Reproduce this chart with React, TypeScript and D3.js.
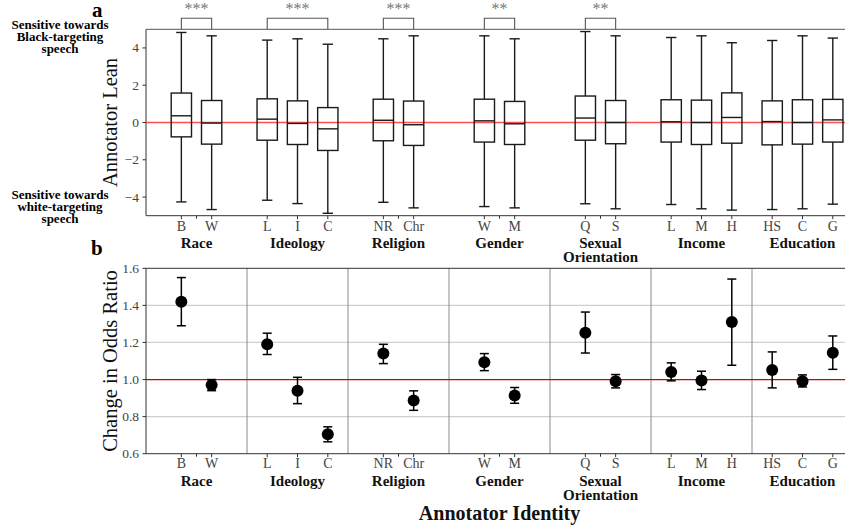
import * as d3 from "d3";

// groups and their items
const groupNames = [["Race"], ["Ideology"], ["Religion"], ["Gender"], ["Sexual", "Orientation"], ["Income"], ["Education"]];
const groupItems = [["B", "W"], ["L", "I", "C"], ["NR", "Chr"], ["W", "M"], ["Q", "S"], ["L", "M", "H"], ["HS", "C", "G"]];

// panel a: annotator lean boxes (flat, same order as groupItems)
const leanWhiskerHi = [4.83, 4.65, 4.42, 4.49, 4.2, 4.49, 4.65, 4.65, 4.49, 4.88, 4.65, 4.56, 4.65, 4.28, 4.4, 4.65, 4.53];
const leanQ3 = [1.58, 1.18, 1.27, 1.16, 0.8, 1.25, 1.15, 1.25, 1.13, 1.42, 1.18, 1.22, 1.2, 1.59, 1.16, 1.22, 1.24];
const leanMedian = [0.36, -0.03, 0.18, -0.05, -0.34, 0.12, -0.12, 0.09, -0.07, 0.24, 0, 0.04, 0, 0.27, 0.05, 0, 0.14];
const leanQ1 = [-0.77, -1.16, -0.95, -1.18, -1.5, -0.98, -1.23, -1.05, -1.18, -0.95, -1.14, -1.05, -1.18, -1.11, -1.2, -1.16, -1.05];
const leanWhiskerLo = [-4.26, -4.67, -4.17, -4.35, -4.87, -4.28, -4.58, -4.51, -4.58, -4.36, -4.63, -4.4, -4.63, -4.7, -4.67, -4.63, -4.38];

// significance per group ('' = none)
const signif = ["***", "***", "***", "**", "**", "", ""];

// panel b: change in odds ratio
const oddsRatio = [1.42, 0.97, 1.19, 0.94, 0.705, 1.14, 0.887, 1.093, 0.914, 1.253, 0.991, 1.041, 0.995, 1.31, 1.052, 0.991, 1.145];
const oddsUpper = [1.55, 1.0, 1.25, 1.012, 0.745, 1.19, 0.939, 1.14, 0.957, 1.364, 1.027, 1.09, 1.045, 1.542, 1.149, 1.025, 1.235];
const oddsLower = [1.29, 0.94, 1.135, 0.87, 0.664, 1.086, 0.834, 1.048, 0.872, 1.143, 0.955, 0.993, 0.946, 1.077, 0.955, 0.96, 1.055];

const leanTicks = [-4, -2, 0, 2, 4];
const oddsTicks = [0.6, 0.8, 1.0, 1.2, 1.4, 1.6];
const oddsGrid = [0.8, 1.2, 1.4];

const W = 845, H = 527;
const font = "'Liberation Serif', 'Times New Roman', serif";
const groupW = 10 / 3;

export default function App() {
  const x = d3.scaleLinear().domain([0, groupW * groupItems.length]).range([146, 853]);
  const yA = d3.scaleLinear().domain([-5, 5]).range([215.7, 29.3]);
  const yB = d3.scaleLinear().domain([0.6, 1.6]).range([453.7, 268.3]);

  // flatten items with positions
  const items: { g: number; label: string; pos: number; i: number }[] = [];
  groupItems.forEach((arr, g) => {
    arr.forEach((label, j) => {
      items.push({ g, label, pos: g * groupW + groupW / 2 + (j - (arr.length - 1) / 2), i: items.length });
    });
  });
  const groupCenter = (g: number) => x(g * groupW + groupW / 2);
  const boxHalf = x(0.335) - x(0);
  const capHalf = x(0.17) - x(0);
  const errCap = 4.5;
  const fmt = d3.format(".1f");
  const x0 = x.range()[0], x1 = x.range()[1];

  const xAxis = (yBase: number, labelY: number, groupY: number) => (
    <g>
      <line x1={x0} x2={x1} y1={yBase} y2={yBase} stroke="#333" strokeWidth={1} />
      {items.map(d => (
        <g key={"t" + d.i}>
          <line x1={x(d.pos)} x2={x(d.pos)} y1={yBase} y2={yBase + 3.5} stroke="#333" />
          <text x={x(d.pos)} y={labelY} textAnchor="middle" fontSize={14} fill="#444" fontFamily={font}>{d.label}</text>
        </g>
      ))}
      {groupNames.map((lines, g) => (
        <g key={"gl" + g}>
          <line x1={groupCenter(g)} x2={groupCenter(g)} y1={yBase} y2={yBase + 3} stroke="#333" />
          {lines.map((ln, k) => (
            <text key={k} x={groupCenter(g)} y={groupY + k * 14.3} textAnchor="middle" fontSize={15} fontWeight="bold" fill="#111" fontFamily={font}>{ln}</text>
          ))}
        </g>
      ))}
    </g>
  );

  return (
    <div style={{ position: "absolute", left: 0, top: 0 }}>
      <svg width={W} height={H} style={{ display: "block", background: "#fff" }}>
        {/* panel labels */}
        <text x={92} y={16.5} fontSize={21} fontWeight="bold" fontFamily={font}>a</text>
        <text x={91} y={255} fontSize={21} fontWeight="bold" fontFamily={font}>b</text>

        {/* side notes */}
        {["Sensitive towards", "Black-targeting", "speech"].map((t, k) => (
          <text key={"n1" + k} x={60} y={28.5 + k * 12} textAnchor="middle" fontSize={13} fontWeight="bold" fontFamily={font}>{t}</text>
        ))}
        {["Sensitive towards", "white-targeting", "speech"].map((t, k) => (
          <text key={"n2" + k} x={60} y={199 + k * 12} textAnchor="middle" fontSize={13} fontWeight="bold" fontFamily={font}>{t}</text>
        ))}

        {/* ---------- panel a ---------- */}
        <line x1={x0} x2={x1} y1={yA(5)} y2={yA(5)} stroke="#555" strokeWidth={1} />
        <line x1={x0} x2={x0} y1={yA(5)} y2={yA(-5)} stroke="#333" strokeWidth={1} />
        {leanTicks.map(t => (
          <g key={"ya" + t}>
            <line x1={x0 - 3.5} x2={x0} y1={yA(t)} y2={yA(t)} stroke="#333" />
            <text x={139} y={yA(t) + 4.5} textAnchor="end" fontSize={13.5} fill="#444" fontFamily={font}>{t < 0 ? "\u2212" + Math.abs(t) : t}</text>
          </g>
        ))}
        <text transform={`translate(117,${yA(0)}) rotate(-90)`} textAnchor="middle" fontSize={20.5} fill="#111" fontFamily={font}>Annotator Lean</text>

        <line x1={x0} x2={x1} y1={yA(0)} y2={yA(0)} stroke="#ff3030" strokeOpacity={0.85} strokeWidth={1.5} />

        {items.map(d => {
          const cx = x(d.pos);
          const s = "#1a1a1a";
          return (
            <g key={"b" + d.i} stroke={s} strokeWidth={1.4} fill="none">
              <line x1={cx} x2={cx} y1={yA(leanWhiskerHi[d.i])} y2={yA(leanQ3[d.i])} />
              <line x1={cx} x2={cx} y1={yA(leanQ1[d.i])} y2={yA(leanWhiskerLo[d.i])} />
              <line x1={cx - capHalf} x2={cx + capHalf} y1={yA(leanWhiskerHi[d.i])} y2={yA(leanWhiskerHi[d.i])} />
              <line x1={cx - capHalf} x2={cx + capHalf} y1={yA(leanWhiskerLo[d.i])} y2={yA(leanWhiskerLo[d.i])} />
              <rect x={cx - boxHalf} y={yA(leanQ3[d.i])} width={boxHalf * 2} height={yA(leanQ1[d.i]) - yA(leanQ3[d.i])} />
              <line x1={cx - boxHalf} x2={cx + boxHalf} y1={yA(leanMedian[d.i])} y2={yA(leanMedian[d.i])} />
            </g>
          );
        })}

        {/* significance brackets */}
        {signif.map((s, g) => {
          if (!s) return null;
          const its = items.filter(d => d.g === g);
          const xa = x(its[0].pos), xb = x(its[its.length - 1].pos);
          const top = 18.3, bot = yA(5);
          return (
            <g key={"s" + g}>
              <path d={`M${xa},${bot}V${top}H${xb}V${bot}`} fill="none" stroke="#555" strokeWidth={1.1} />
              <text x={(xa + xb) / 2} y={14} textAnchor="middle" fontSize={16} fill="#777" fontFamily={font}>{s}</text>
            </g>
          );
        })}

        {xAxis(yA(-5), 231, 247.5)}

        {/* ---------- panel b ---------- */}
        {oddsGrid.map(t => (
          <line key={"gr" + t} x1={x0} x2={x1} y1={yB(t)} y2={yB(t)} stroke="#cfcfcf" strokeWidth={1.3} />
        ))}
        {groupItems.slice(1).map((_, g) => (
          <line key={"sep" + g} x1={x((g + 1) * groupW)} x2={x((g + 1) * groupW)} y1={yB(1.6)} y2={yB(0.6)} stroke="#8a8a8a" strokeWidth={1} />
        ))}
        <line x1={x0} x2={x1} y1={yB(1.0)} y2={yB(1.0)} stroke="#d40000" strokeWidth={1.2} />
        <line x1={x0} x2={x1} y1={yB(1.6)} y2={yB(1.6)} stroke="#333" strokeWidth={1} />
        <line x1={x0} x2={x0} y1={yB(1.6)} y2={yB(0.6)} stroke="#333" strokeWidth={1} />
        {oddsTicks.map(t => (
          <g key={"yb" + t}>
            <line x1={x0 - 3.5} x2={x0} y1={yB(t)} y2={yB(t)} stroke="#333" />
            <text x={139} y={yB(t) + 4.5} textAnchor="end" fontSize={13.5} fill="#444" fontFamily={font}>{fmt(t)}</text>
          </g>
        ))}
        <text transform={`translate(117,${yB(1.1)}) rotate(-90)`} textAnchor="middle" fontSize={20.5} fill="#111" fontFamily={font}>Change in Odds Ratio</text>

        {items.map(d => {
          const cx = x(d.pos);
          return (
            <g key={"p" + d.i} stroke="#000" strokeWidth={1.5}>
              <line x1={cx} x2={cx} y1={yB(oddsUpper[d.i])} y2={yB(oddsLower[d.i])} />
              <line x1={cx - errCap} x2={cx + errCap} y1={yB(oddsUpper[d.i])} y2={yB(oddsUpper[d.i])} />
              <line x1={cx - errCap} x2={cx + errCap} y1={yB(oddsLower[d.i])} y2={yB(oddsLower[d.i])} />
              <circle cx={cx} cy={yB(oddsRatio[d.i])} r={6} fill="#000" stroke="none" />
            </g>
          );
        })}

        {xAxis(yB(0.6), 468, 485.5)}

        <text x={(x0 + x1) / 2} y={520} textAnchor="middle" fontSize={20} fontWeight="bold" fill="#111" fontFamily={font}>Annotator Identity</text>
      </svg>
    </div>
  );
}
